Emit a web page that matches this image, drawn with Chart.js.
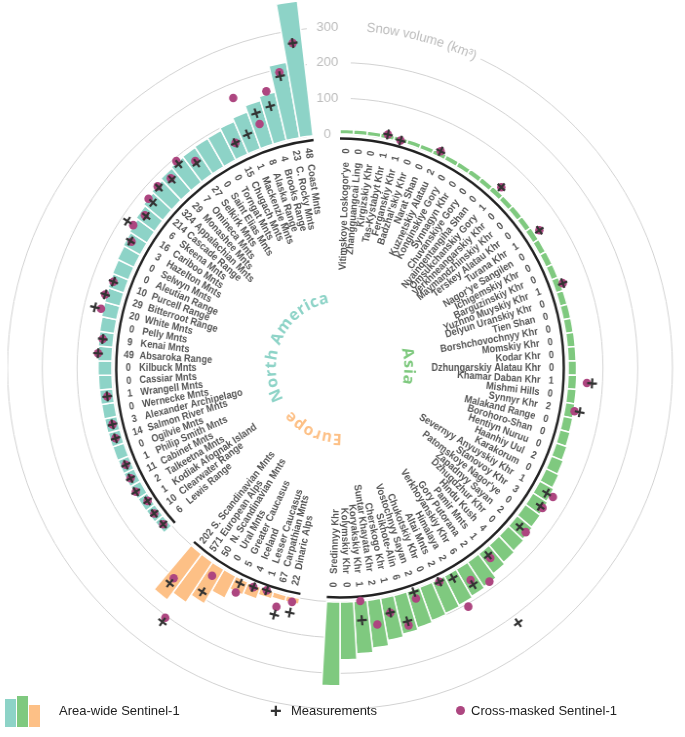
<!DOCTYPE html>
<html>
<head>
<meta charset="utf-8">
<script src="https://cdn.jsdelivr.net/npm/chart.js@4.4.1/dist/chart.umd.min.js"></script>
<style>
  html, body { margin: 0; padding: 0; background: #fff; }
  #wrap { position: relative; width: 685px; height: 737px; overflow: hidden; }
  #chart { position: absolute; left: -1px; top: 0; transform: scaleX(0.975); transform-origin: 341px 0; }
  .lg { position: absolute; font: 13px "Liberation Sans", Arial, sans-serif; color: #222; white-space: nowrap; }
  .sw { position: absolute; bottom: 0; width: 11px; }
</style>
</head>
<body>
<div id="wrap">
  <canvas id="chart" width="686" height="737"></canvas>
  <div class="lg" style="left:5px; top:696px; width:40px; height:31px;">
    <div class="sw" style="left:0; height:28px; background:#8dd3c7;"></div>
    <div class="sw" style="left:12px; height:31px; background:#7fc97f;"></div>
    <div class="sw" style="left:24px; height:22px; background:#fdc086;"></div>
  </div>
  <div class="lg" style="left:59px; top:703px;">Area-wide Sentinel-1</div>
  <div class="lg" style="left:270px; top:700px; font-size:20px; font-weight:bold; color:#333;">+</div>
  <div class="lg" style="left:291px; top:703px;">Measurements</div>
  <div class="lg" style="left:456px; top:706px; width:9px; height:9px; border-radius:50%; background:#ad4680;"></div>
  <div class="lg" style="left:471px; top:703px;">Cross-masked Sentinel-1</div>
</div>
<script>
// --- North America (listed as in the figure, from the top going anticlockwise)
const naNames = ['Coast Mnts', 'C. Rocky Mnts', 'Brooks Range', 'Alaska Range', 'Mackenzie Mnts', 'Chugach Mnts',
  'Torngat Mnts', 'Saint Elias Mnts', 'Selkirk Mnts', 'Omineca Mnts', 'Monashee Mnts', 'Appalachian Mnts',
  'Cascade Range', 'Skeena Mnts', 'Cariboo Mnts', 'Hazelton Mnts', 'Selwyn Mnts', 'Aleutian Range',
  'Purcell Range', 'Bitterroot Range', 'White Mnts', 'Pelly Mnts', 'Kenai Mnts', 'Absaroka Range',
  'Kilbuck Mnts', 'Cassiar Mnts', 'Wrangell Mnts', 'Wernecke Mnts', 'Alexander Archipelago', 'Salmon River Mnts',
  'Ogilvie Mnts', 'Philip Smith Mnts', 'Cabinet Mnts', 'Talkeetna Mnts', 'Kodiak Afognak Island',
  'Clearwater Range', 'Lewis Range'];
const naCounts = [48, 23, 4, 8, 1, 15, 0, 0, 27, 7, 29, 324, 214, 6, 16, 3, 0, 0, 10, 29, 20, 0, 9, 49, 0, 0, 1, 0, 3, 14, 0, 1, 11, 2, 1, 10, 6];
const naVolume = [380, 215, 140, 128, 110, 100, 93, 92, 90, 88, 84, 78, 72, 66, 60, 56, 53, 50, 48, 46, 45, 43, 42, 41,
  40, 39, 38, 37, 36, 35, 34, 33, 33, 32, 31, 30, 29];
const naMeas = [265, 180, 105, 98, 51, 43, null, null, 51, 80, 60, 70, 54, 45, 81, 44, null, null, 39, 50, 69, null, 31, 41,
  null, null, 18, null, 17, 19, null, 17, 21, 26, 11, 16, 15];
const naCross = [265, 191, 148, 66, 161, 43, null, null, 58, 91, 65, 75, 71, 50, 61, 40, null, null, 39, 50, 51, null, 31, 41,
  null, null, 18, null, 17, 19, null, 17, 21, 26, 11, 16, 15];

// --- Europe (listed as in the figure, outer-left first)
const euNames = ['S. Scandinavian Mnts', 'European Alps', 'N. Scandinavian Mnts', 'Ural Mnts', 'Greater Caucasus',
  'Iceland', 'Lesser Caucasus', 'Carpathian Mnts', 'Dinaric Alps'];
const euCounts = [202, 571, 50, 0, 5, 4, 1, 67, 22];
const euVolume = [163, 137, 112, 70, 39, 35, 21, 17, 17];
const euMeas = [121, 220, 86, null, 13, 7, 2, 61, 45];
const euCross = [103, 206, 33, null, 41, 7, 2, 38, 14];

// --- Asia (clockwise from the top)
const asNames = ['Vitimskoye Loskogor\'ye', 'Zhangguangcai Ling', 'Kirgizskiy Khr', 'Tas-Kystabyt Khr', 'Ferganskiy Khr',
  'Badzhal\'skiy Khr', 'Narat Shan', 'Kuznetskiy Alatau', 'Konginskiye Gory', 'Synnagyn Khr', 'Chuvanskiye Gory',
  'Nyainqentangiha Shan', 'Omsukchanskiy Gory', 'Verkhneangarskiy Khr', 'Maymandzhinskiy Khr', 'Terskey Alatau Khr',
  'Turana Khr', 'Nagor\'ye Sangilen', 'Ichigemskiy Khr', 'Barguzinskiy Khr', 'Yuzhno Muyskiy Khr', 'Delyun Uranskiy Khr',
  'Tien Shan', 'Borshchovochnyy Khr', 'Momskiy Khr', 'Kodar Khr', 'Dzhungarskiy Alatau Khr', 'Khamar Daban Khr',
  'Mishmi Hills', 'Synnyr Khr', 'Malakand Range', 'Borohoro-Shan', 'Hentiyn Nuruu', 'Haanhiy Uul', 'Karakorum',
  'Severnyy Anyuyskiy Khr', 'Stanovoy Khr', 'Patomskoye Nagor\'ye', 'Zapadnyy Sayan', 'Dzhugdzhur Khr', 'Hindu Kush',
  'Pamir Mnts', 'Gory Putorana', 'Verkhoyanskiy Khr', 'Himalaya', 'Altai Mnts', 'Chukotskiy Khr', 'Vostochnyy Sayan',
  'Sikhote-Alin', 'Cherskogo Khr', 'Suntar Khayata Khr', 'Koryakskiy Khr', 'Kolymskiy Khr', 'Sredinnyy Khr'];
const asCounts = [0, 0, 0, 1, 1, 0, 0, 2, 0, 0, 0, 0, 1, 0, 0, 0, 1, 0, 0, 0, 1, 0, 0, 0, 0, 0, 0, 1, 0, 2, 0, 0, 0, 2, 0,
  1, 3, 0, 2, 0, 4, 1, 2, 6, 2, 2, 0, 2, 6, 1, 2, 1, 0, 0];
const asVolume = [13, 13, 13, 13, 14, 14, 14, 15, 15, 15, 16, 16, 17, 17, 18, 18, 19, 19, 20, 20, 21, 21, 22, 22, 23, 23,
  24, 25, 26, 27, 28, 30, 33, 37, 41, 46, 50, 53, 56, 60, 64, 70, 84, 88, 92, 96, 100, 106, 112, 120, 135, 147, 162, 235];
const asMeas = [null, null, null, 13, 5, null, null, 17, null, null, null, null, 31, null, null, null, 35, null, null, null,
  27, null, null, null, null, null, null, 70, null, 44, null, null, null, null, null, 34, 38, null, 26, null, null, 20,
  223, 62, 17, 8, null, 7, 80, 45, null, 54, null, null];
const asCross = [null, null, null, 13, 5, null, null, 17, null, null, null, null, 31, null, null, null, 35, null, null, null,
  27, null, null, null, null, null, null, 55, null, 29, null, null, null, null, null, 55, 46, null, 49, null, null, 30,
  81, 47, 108, 8, null, 26, 92, 45, 71, 0, null, null];

const axisTicks = [0, 100, 200, 300];

const COLORS = { na: '#8dd3c7', eu: '#fdc086', as: '#7fc97f' };
const TITLES = { na: 'North America', eu: 'Europe', as: 'Asia' };
const TITLE_MID = { na: 296, eu: 204, as: 88.5 };
const NARROW = 0.9;

// slots clockwise from the top, with empty slots between the continents
const slots = [];
function addRegion(region, names, counts, vols, meas, cross, reverse) {
  const order = names.map((_, i) => i);
  if (reverse) order.reverse();
  order.forEach(i => slots.push({ region, name: names[i], count: counts[i], value: vols[i], meas: meas[i], cross: cross[i] }));
}
function addGap(n) { for (let k = 0; k < n; k++) slots.push({ region: null, value: null }); }
addRegion('as', asNames, asCounts, asVolume, asMeas, asCross, false);
addGap(2);
addRegion('eu', euNames, euCounts, euVolume, euMeas, euCross, true);
addGap(2);
addRegion('na', naNames, naCounts, naVolume, naMeas, naCross, true);
addGap(2);

function radialText(ctx, cx, cy, a, r, text, align) {
  const right = Math.cos(a) >= -1e-6;
  ctx.save();
  ctx.translate(cx, cy);
  ctx.rotate(right ? a : a + Math.PI);
  ctx.scale(NARROW, 1);
  ctx.textBaseline = 'middle';
  ctx.textAlign = align === 'center' ? 'center' : (right ? 'right' : 'left');
  ctx.fillText(text, (right ? r : -r) / NARROW, 0);
  ctx.restore();
}

// text along a circle, clockwise, letters pointing outwards
function arcText(ctx, cx, cy, text, radius, startDeg, centred, spacing) {
  const chars = [...text];
  const widths = chars.map(ch => ctx.measureText(ch).width + spacing);
  const total = widths.reduce((a, b) => a + b, 0);
  let ang = startDeg * Math.PI / 180 - (centred ? total / 2 / radius : 0);
  chars.forEach((ch, i) => {
    const th = ang + widths[i] / 2 / radius;
    ctx.save();
    ctx.translate(cx + radius * Math.sin(th), cy - radius * Math.cos(th));
    ctx.rotate(th);
    ctx.textAlign = 'center';
    ctx.fillText(ch, 0, 0);
    ctx.restore();
    ang += widths[i] / radius;
  });
}

const radialBars = {
  id: 'radialBars',
  afterDatasetUpdate(chart, args) {
    const base = chart.scales.r.getDistanceFromCenterForValue(0);
    args.meta.data.forEach(arc => {
      arc.innerRadius = base;
      if (!(arc.outerRadius > base)) arc.outerRadius = base;
    });
  },
  beforeDatasetsDraw(chart) {
    const ctx = chart.ctx, s = chart.scales.r, cx = s.xCenter, cy = s.yCenter;
    ctx.save();
    // gaps in the grid for the tick labels and the axis title
    ctx.fillStyle = '#fff';
    axisTicks.forEach(v => {
      const y = cy - s.getDistanceFromCenterForValue(v);
      ctx.fillRect(cx - 34, y - 8, 45, 16);
    });
    const r300 = s.getDistanceFromCenterForValue(300);
    ctx.strokeStyle = '#fff';
    ctx.lineWidth = 14;
    ctx.beginPath();
    ctx.arc(cx, cy, r300, -Math.PI / 2, -Math.PI / 2 + 25 * Math.PI / 180);
    ctx.stroke();
    ctx.fillStyle = '#bdbdbd';
    ctx.font = '13.5px "Liberation Sans", Arial, sans-serif';
    ctx.textAlign = 'center';
    ctx.textBaseline = 'middle';
    axisTicks.forEach(v => {
      ctx.fillText(String(v), cx - 13, cy - s.getDistanceFromCenterForValue(v));
    });
    ctx.textBaseline = 'middle';
    arcText(ctx, cx, cy, 'Snow volume (km³)', r300, 4.6, false, 0);
    ctx.restore();
  },
  afterDatasetsDraw(chart) {
    const ctx = chart.ctx, s = chart.scales.r, cx = s.xCenter, cy = s.yCenter;
    const arcs = chart.getDatasetMeta(0).data;
    ctx.save();

    // black base arc for each continent
    ['as', 'eu', 'na'].forEach(reg => {
      const idx = slots.map((sl, i) => sl.region === reg ? i : -1).filter(i => i >= 0);
      const first = arcs[idx[0]], last = arcs[idx[idx.length - 1]];
      ctx.strokeStyle = '#222';
      ctx.lineWidth = 2.5;
      ctx.beginPath();
      ctx.arc(cx, cy, 229.5, first.startAngle, last.endAngle);
      ctx.stroke();
    });

    // markers: cross-masked dots, then measurement crosses
    slots.forEach((sl, i) => {
      if (!sl.region) return;
      const arc = arcs[i];
      const a = (arc.startAngle + arc.endAngle) / 2;
      if (sl.cross != null) {
        const r = s.getDistanceFromCenterForValue(sl.cross);
        ctx.fillStyle = '#ad4680';
        ctx.beginPath();
        ctx.arc(cx + r * Math.cos(a), cy + r * Math.sin(a), 4.3, 0, Math.PI * 2);
        ctx.fill();
      }
    });
    slots.forEach((sl, i) => {
      if (!sl.region || sl.meas == null) return;
      const arc = arcs[i];
      const a = (arc.startAngle + arc.endAngle) / 2;
      const r = s.getDistanceFromCenterForValue(sl.meas);
      ctx.save();
      ctx.translate(cx + r * Math.cos(a), cy + r * Math.sin(a));
      ctx.rotate(a);
      ctx.strokeStyle = '#333';
      ctx.lineWidth = 2.2;
      ctx.beginPath();
      ctx.moveTo(-5, 0); ctx.lineTo(5, 0);
      ctx.moveTo(0, -5); ctx.lineTo(0, 5);
      ctx.stroke();
      ctx.restore();
    });

    // range names and counts
    ctx.fillStyle = '#555';
    ctx.font = 'bold 10.5px "Liberation Sans", Arial, sans-serif';
    slots.forEach((sl, i) => {
      if (!sl.region) return;
      const arc = arcs[i];
      const a = (arc.startAngle + arc.endAngle) / 2;
      radialText(ctx, cx, cy, a, 217, String(sl.count), 'center');
      radialText(ctx, cx, cy, a, 206, sl.name, 'edge');
    });

    // continent names
    ctx.font = 'bold 16px "Open Sans", "Liberation Sans", sans-serif';
    ctx.textBaseline = 'alphabetic';
    Object.keys(TITLES).forEach(reg => {
      ctx.fillStyle = COLORS[reg];
      arcText(ctx, cx, cy, TITLES[reg], 66, TITLE_MID[reg], true, 0.6);
    });
    ctx.restore();
  }
};

new Chart(document.getElementById('chart'), {
  type: 'polarArea',
  data: {
    labels: slots.map(sl => sl.name || ''),
    datasets: [{
      data: slots.map(sl => sl.value),
      backgroundColor: slots.map(sl => sl.region ? COLORS[sl.region] : 'rgba(0,0,0,0)'),
      borderColor: '#fff',
      borderWidth: slots.map(sl => sl.region ? 1.5 : 0),
      angle: 360 / slots.length,
      clip: false
    }]
  },
  options: {
    responsive: false,
    animation: false,
    layout: { padding: { left: 0, right: 4, top: 27, bottom: 28 } },
    plugins: { legend: { display: false }, tooltip: { enabled: false } },
    scales: {
      r: {
        min: -656,
        max: 300,
        ticks: { display: false, stepSize: 100 },
        grid: { color: '#d2d2d2', lineWidth: 1 },
        angleLines: { display: false },
        pointLabels: { display: false },
        afterBuildTicks: (scale) => { scale.ticks = scale.ticks.filter(t => t.value >= 0); }
      }
    }
  },
  plugins: [radialBars]
});
</script>
</body>
</html>
